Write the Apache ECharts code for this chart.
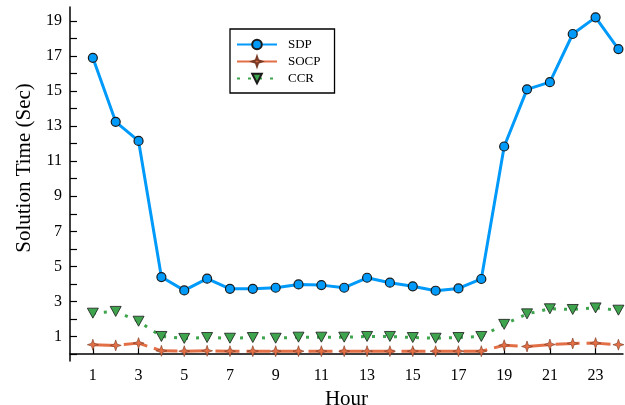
<!DOCTYPE html>
<html>
<head>
<meta charset="utf-8">
<script src="https://cdn.jsdelivr.net/npm/echarts@6/dist/echarts.min.js"></script>
<style>html,body{margin:0;padding:0;background:#fff}#c{width:625px;height:405px}</style>
</head>
<body>
<div id="c"></div>
<script>
var hours = [1,2,3,4,5,6,7,8,9,10,11,12,13,14,15,16,17,18,19,20,21,22,23,24];
var sdp  = [16.9,13.25,12.16,4.39,3.63,4.3,3.72,3.72,3.78,3.97,3.93,3.78,4.35,4.07,3.86,3.61,3.74,4.28,11.84,15.1,15.51,18.26,19.21,17.4];
var socp = [0.53,0.49,0.62,0.18,0.16,0.18,0.16,0.16,0.16,0.16,0.16,0.16,0.16,0.16,0.16,0.16,0.16,0.16,0.5,0.43,0.54,0.6,0.62,0.53];
var ccr  = [2.33,2.43,1.87,1.0,0.89,0.94,0.9,0.94,0.9,0.96,0.96,0.96,1.0,1.0,0.94,0.9,0.94,1.0,1.69,2.29,2.58,2.54,2.63,2.5];
var xTickLabels = [1,3,5,7,9,11,13,15,17,19,21,23];
var yTickLabels = [1,3,5,7,9,11,13,15,17,19];
var yTicks = [0,1,2,3,4,5,6,7,8,9,10,11,12,13,14,15,16,17,18,19];

function pairs(v){ return hours.map(function(h,i){ return [h, v[i]]; }); }
var FONT = 'Liberation Serif';
var star4 = 'path://M0,-10 L2.5,-2.5 L10,0 L2.5,2.5 L0,10 L-2.5,2.5 L-10,0 L-2.5,-2.5 Z';

var chart = echarts.init(document.getElementById('c'), null, {renderer:'canvas'});
chart.setOption({
  animation: false,
  backgroundColor: '#fff',
  textStyle: {fontFamily: FONT},
  grid: {left: 70, right: 2, top: 7, bottom: 44, containLabel: false, outerBoundsMode: 'none'},
  legend: {
    orient: 'vertical', left: 230, top: 29,
    data: [
      {name: 'SDP'},
      {name: 'SOCP', lineStyle: {type: 'solid'}},
      {name: 'CCR'}
    ],
    itemWidth: 40, itemHeight: 12, itemGap: 4,
    padding: [9, 14, 8, 6],
    borderColor: '#000', borderWidth: 1.3,
    textStyle: {fontFamily: FONT, fontSize: 13, color: '#000', padding: [0,0,0,6]}
  },
  xAxis: {
    type: 'value', min: 0, max: 24.2,
    name: 'Hour', nameLocation: 'middle', nameGap: 19,
    nameTextStyle: {fontFamily: FONT, fontSize: 21, color: '#000'},
    axisLine: {show: true, lineStyle: {color: '#000', width: 1.5}},
    axisTick: {show: true, inside: true, length: 6, customValues: xTickLabels, lineStyle: {color: '#000', width: 1.2}},
    axisLabel: {customValues: xTickLabels, fontFamily: FONT, fontSize: 16, color: '#000', margin: 7},
    splitLine: {show: false}
  },
  yAxis: {
    type: 'value', min: -0.4, max: 19.8,
    name: 'Solution Time (Sec)', nameLocation: 'middle', nameGap: 35, nameRotate: 90,
    nameTextStyle: {fontFamily: FONT, fontSize: 21, color: '#000', padding: [0, 0, 0, 32]},
    axisLine: {show: true, lineStyle: {color: '#000', width: 1.5}},
    axisTick: {show: true, inside: true, length: 7, customValues: yTicks, lineStyle: {color: '#000', width: 1.2}},
    axisLabel: {customValues: yTickLabels, fontFamily: FONT, fontSize: 16, color: '#000', margin: 8},
    splitLine: {show: false}
  },
  series: [
    {
      name: 'SDP', type: 'line', data: pairs(sdp),
      symbol: 'circle', symbolSize: 9,
      lineStyle: {color: '#009AFA', width: 3},
      itemStyle: {color: '#009AFA', borderColor: '#1a1a1a', borderWidth: 1.2},
      z: 3
    },
    {
      name: 'SOCP', type: 'line', data: pairs(socp),
      symbol: star4, symbolSize: 11,
      lineStyle: {color: '#E36F47', width: 3, type: [24, 7], dashOffset: 0},
      itemStyle: {color: '#E36F47', borderColor: '#7a3a25', borderWidth: 0.6},
      z: 2
    },
    {
      name: 'CCR', type: 'line', data: pairs(ccr),
      symbol: 'triangle', symbolRotate: 180, symbolSize: [11, 10],
      lineStyle: {color: '#3EA44E', width: 3, type: [3, 8]},
      itemStyle: {color: '#3EA44E', borderColor: '#1a1a1a', borderWidth: 0.8},
      z: 2
    }
  ]
});
</script>
</body>
</html>
